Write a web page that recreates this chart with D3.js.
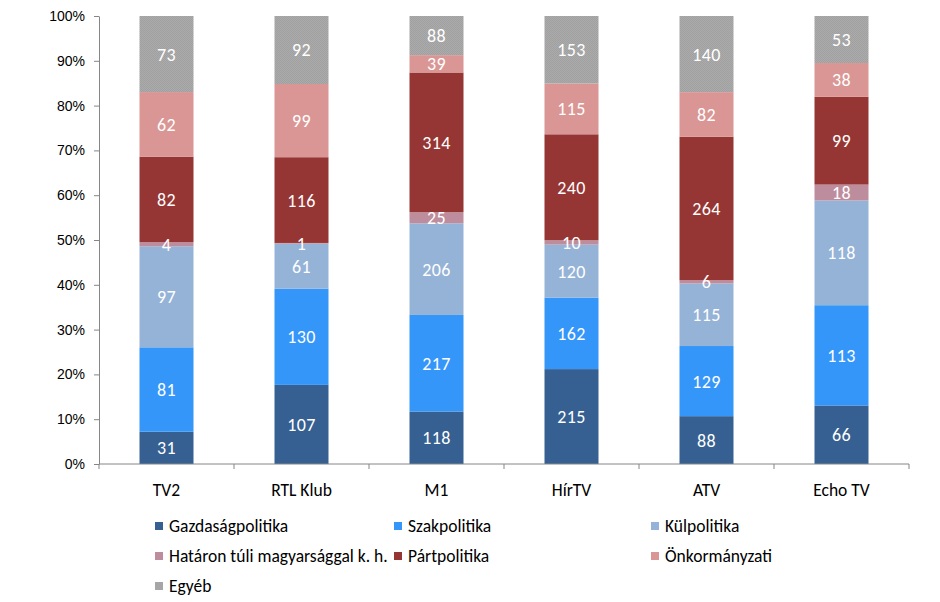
<!DOCTYPE html>
<html><head><meta charset="utf-8">
<script src="https://cdn.jsdelivr.net/npm/d3@7"></script>
<style>
body{margin:0;background:#fff;}
svg{display:block;}
.cal{font-family:Calibri,Carlito,"Liberation Sans Narrow","DejaVu Sans Condensed","Noto Sans",sans-serif;}
</style>
</head><body>
<svg id="c" width="940" height="602"></svg>
<script>
const categories = ["TV2","RTL Klub","M1","HírTV","ATV","Echo TV"];
const seriesNames = ["Gazdaságpolitika","Szakpolitika","Külpolitika","Határon túli magyarsággal k. h.","Pártpolitika","Önkormányzati","Egyéb"];
const gazdasag = [31,107,118,215,88,66];
const szak = [81,130,217,162,129,113];
const kul = [97,61,206,120,115,118];
const hataron = [4,1,25,10,6,18];
const part = [82,116,314,240,264,99];
const onkorm = [62,99,39,115,82,38];
const egyeb = [73,92,88,153,140,53];
const yTicks = [0,0.1,0.2,0.3,0.4,0.5,0.6,0.7,0.8,0.9,1];
const colors = ["#376092","#3596FA","#95B3D7","#BE8D9D","#963634","#DA9694","url(#gray)"];
const legendColors = ["#376092","#3596FA","#95B3D7","#BE8D9D","#963634","#DA9694","#A6A6A6"];

(function(){
const seriesValues = [gazdasag,szak,kul,hataron,part,onkorm,egyeb];
const rows = categories.map((c,i)=>{const r={cat:c}; seriesNames.forEach((s,j)=>r[s]=seriesValues[j][i]); return r;});

const svg = d3.select("#c");
const defs = svg.append("defs");
const pat = defs.append("pattern").attr("id","gray").attr("width",2).attr("height",2).attr("patternUnits","userSpaceOnUse");
pat.append("rect").attr("width",2).attr("height",2).attr("fill","#ABABAB");
pat.append("rect").attr("width",1).attr("height",1).attr("fill","#A0A0A0");
pat.append("rect").attr("x",1).attr("y",1).attr("width",1).attr("height",1).attr("fill","#A0A0A0");

const mLeft=99, mRight=909, mTop=16, mBottom=464;
const x = d3.scaleBand().domain(categories).range([mLeft,mRight]).paddingInner(0.6).paddingOuter(0.3);
const y = d3.scaleLinear().domain([0,1]).range([mBottom,mTop]);

const stack = d3.stack().keys(seriesNames).offset(d3.stackOffsetExpand);
const stacked = stack(rows);

const g = svg.append("g");
stacked.forEach((layer,li)=>{
  const lg = g.append("g");
  lg.selectAll("rect").data(layer).enter().append("rect")
    .attr("x",d=>x(d.data.cat)).attr("width",x.bandwidth())
    .attr("y",d=>y(d[1])).attr("height",d=>y(d[0])-y(d[1]))
    .attr("fill",colors[li]);
});
stacked.forEach((layer,li)=>{
  g.append("g").selectAll("text").data(layer).enter().append("text")
    .attr("class","cal")
    .attr("x",d=>x(d.data.cat)+x.bandwidth()/2)
    .attr("y",d=>(y(d[0])+y(d[1]))/2)
    .attr("dy","0.36em")
    .attr("text-anchor","middle")
    .attr("fill","#fff")
    .attr("font-size","18px")
    .attr("letter-spacing","0.3px")
    .text(d=>d.data[layer.key]);
});

// Y axis
const yAxis = d3.axisLeft(y).tickValues(yTicks).tickFormat(d3.format(".0%")).tickSize(5).tickSizeOuter(0);
const ya = svg.append("g").attr("transform",`translate(${mLeft},0)`).call(yAxis);
ya.select(".domain").attr("stroke","#868686");
ya.selectAll(".tick line").attr("stroke","#868686");
ya.selectAll(".tick text").attr("font-family","Arial, 'Liberation Sans', sans-serif").attr("font-size","14px").attr("fill","#000").attr("x",-14);

// X axis
const xa = svg.append("g").attr("transform",`translate(0,${mBottom})`);
xa.append("line").attr("x1",mLeft).attr("x2",mRight).attr("stroke","#868686");
const bounds = d3.range(categories.length+1).map(i=>mLeft + i*x.step());
xa.selectAll("line.t").data(bounds).enter().append("line").attr("class","t")
  .attr("x1",d=>d).attr("x2",d=>d).attr("y1",0).attr("y2",5).attr("stroke","#868686");
xa.selectAll("text").data(categories).enter().append("text")
  .attr("class","cal")
  .attr("x",d=>x(d)+x.bandwidth()/2).attr("y",26)
  .attr("dy","0.36em").attr("text-anchor","middle")
  .attr("font-size","17.5px").attr("fill","#000")
  .text(d=>d);

// Legend
const colX=[155,394,651], rowY=[526,556,586];
const lgd = svg.append("g");
seriesNames.forEach((s,i)=>{
  const cx = colX[i%3], cy = rowY[Math.floor(i/3)];
  lgd.append("rect").attr("x",cx).attr("y",cy-4).attr("width",8).attr("height",8).attr("fill",legendColors[i]);
  lgd.append("text").attr("class","cal").attr("x",cx+14).attr("y",cy).attr("dy","0.36em")
    .attr("font-size","17.5px").attr("fill","#000").text(s);
});
})();
</script>
</body></html>
